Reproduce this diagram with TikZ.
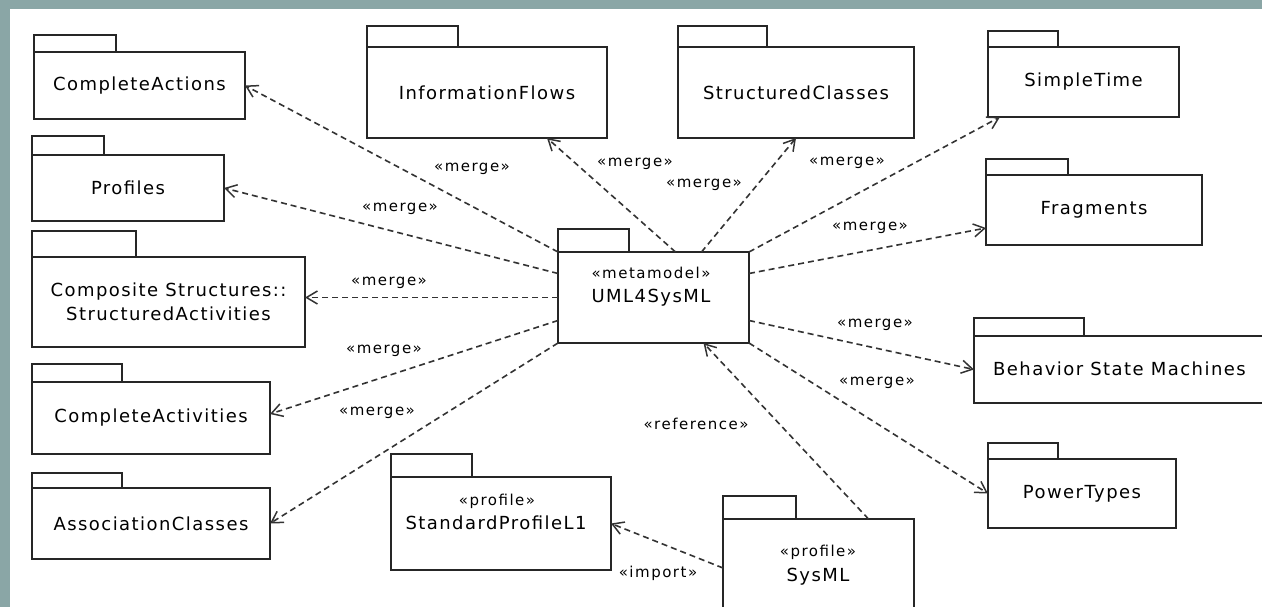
\documentclass[tikz,border=0pt]{standalone}
\usepackage{fontspec}
\setmainfont{DejaVu Sans}[LetterSpace=8]
\newfontfamily\lblfont{DejaVu Sans}[LetterSpace=10]
\usetikzlibrary{arrows.meta,calc}
\definecolor{framecol}{RGB}{138,166,166}
\tikzset{
  pkgbody/.style 2 args={draw=black!85, line width=1.8pt, fill=white, anchor=north west,
    inner sep=0pt, outer sep=0pt, minimum width=#1pt, minimum height=#2pt,
    font=\fontsize{18}{24}\selectfont, align=center},
  pkgtab/.style={draw=black!85, line width=1.8pt},
  pkgtext/.style={inner sep=0pt, font=\fontsize{18}{24}\selectfont},
  stereo/.style={inner sep=0pt, font=\lblfont\fontsize{15}{18}\selectfont},
  dep/.style={draw=black!80, line width=1.6pt, dash pattern=on 6pt off 4pt,
    -{Straight Barb[length=11pt,width=13pt,line width=1.5pt]}},
  lbl/.style={inner sep=0pt, font=\lblfont\fontsize{15}{18}\selectfont},
}
\begin{document}
\begin{tikzpicture}[x=1pt,y=-1pt]
\useasboundingbox (0,0) rectangle (1262,607);
\fill[framecol] (0,0) rectangle (1262,607);
\fill[white] (10,9) rectangle (1262,607);

% packages
\node[pkgbody={211}{67}] (ca) at (34,52) {CompleteActions};
\draw[pkgtab] (ca.north west) rectangle ++(82,-17);
\node[pkgbody={192}{66}] (pr) at (32,155) {Profiles};
\draw[pkgtab] (pr.north west) rectangle ++(72,-19);
\node[pkgbody={273}{90}] (cs) at (32,257) {Composite Structures::\\StructuredActivities};
\draw[pkgtab] (cs.north west) rectangle ++(104,-26);
\node[pkgbody={238}{72}] (cact) at (32,382) {CompleteActivities};
\draw[pkgtab] (cact.north west) rectangle ++(90,-18);
\node[pkgbody={238}{71}] (ac) at (32,488) {AssociationClasses};
\draw[pkgtab] (ac.north west) rectangle ++(90,-15);
\node[pkgbody={240}{91}] (ifl) at (367,47) {InformationFlows};
\draw[pkgtab] (ifl.north west) rectangle ++(91,-21);
\node[pkgbody={236}{91}] (sc) at (678,47) {StructuredClasses};
\draw[pkgtab] (sc.north west) rectangle ++(89,-21);
\node[pkgbody={191}{70}] (st) at (988,47) {SimpleTime};
\draw[pkgtab] (st.north west) rectangle ++(70,-16);
\node[pkgbody={216}{70}] (fr) at (986,175) {Fragments};
\draw[pkgtab] (fr.north west) rectangle ++(82,-16);
\node[pkgbody={300}{67}] (bsm) at (974,336) {};
\draw[pkgtab] (bsm.north west) rectangle ++(110,-18);
\node[pkgtext, anchor=west] (bsmt) at (993,369) {Behavior State Machines};
\node[pkgbody={188}{69}] (pt) at (988,459) {PowerTypes};
\draw[pkgtab] (pt.north west) rectangle ++(70,-16);
\node[pkgbody={191}{91}] (uml) at (558,252) {};
\draw[pkgtab] (uml.north west) rectangle ++(71,-23);
\node[stereo] (umls) at (651,273) {«metamodel»};
\node[pkgtext] (umlt) at (651,298) {UML4SysML};
\node[pkgbody={220}{93}] (spl) at (391,477) {};
\draw[pkgtab] (spl.north west) rectangle ++(81,-23);
\node[stereo] (spls) at (497,501) {«profile»};
\node[pkgtext] (splt) at (496,523) {StandardProfileL1};
\node[pkgbody={191}{100}] (sys) at (723,519) {};
\draw[pkgtab] (sys.north west) rectangle ++(73,-23);
\node[stereo] (syss) at (818,552) {«profile»};
\node[pkgtext] (syst) at (818,577) {SysML};

% dependencies
\draw[dep] (uml.north west) -- (ca.east);
\draw[dep] ($(uml.west)+(0,-24)$) -- (pr.east);
\draw[dep] (uml.west) -- (uml.west -| cs.east);
\draw[dep] ($(uml.west)+(0,23)$) -- ($(cact.east)+(0,-4)$);
\draw[dep] (uml.south west) -- (ac.east);
\draw[dep] ($(uml.north)+(22,0)$) -- ($(ifl.south)+(60,0)$);
\draw[dep] ($(uml.north)+(48,0)$) -- (sc.south);
\draw[dep] (uml.north east) -- ($(st.south west)+(12,0)$);
\draw[dep] ($(uml.east)+(0,-24)$) -- ($(fr.west)+(0,18)$);
\draw[dep] ($(uml.east)+(0,23)$) -- (bsm.west);
\draw[dep] (uml.south east) -- (pt.west);
\draw[dep] ($(sys.north)+(50,0)$) -- ($(uml.south)+(50,0)$);
\draw[dep] ($(sys.west)+(0,-1)$) -- (spl.east);

% labels
\node[lbl] (l1) at (472,169) {«merge»};
\node[lbl] (l2) at (400,209) {«merge»};
\node[lbl] (l3) at (389,283) {«merge»};
\node[lbl] (l4) at (384,351) {«merge»};
\node[lbl] (l5) at (377,413) {«merge»};
\node[lbl] (l6) at (635,164) {«merge»};
\node[lbl] (l7) at (704,185) {«merge»};
\node[lbl] (l8) at (847,163) {«merge»};
\node[lbl] (l9) at (870,228) {«merge»};
\node[lbl] (l10) at (875,325) {«merge»};
\node[lbl] (l11) at (877,383) {«merge»};
\node[lbl] (l12) at (696,424) {«reference»};
\node[lbl] (l13) at (658,573) {«import»};
\end{tikzpicture}
\end{document}
